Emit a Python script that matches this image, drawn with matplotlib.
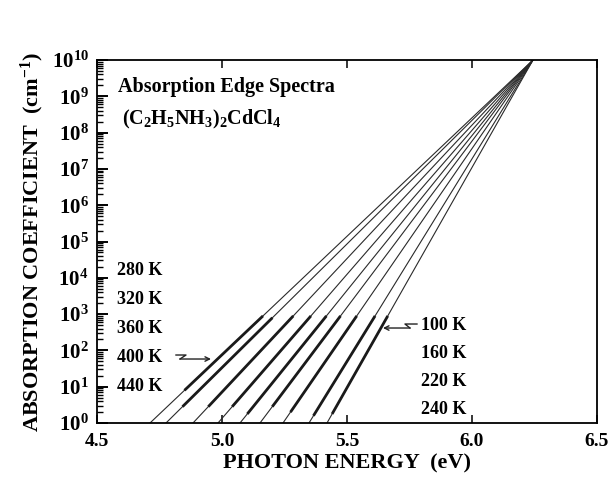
import numpy as np
import matplotlib.pyplot as plt
from matplotlib.ticker import FixedLocator, NullFormatter, FuncFormatter

plt.rcParams['font.family'] = ['Liberation Serif', 'DejaVu Serif']
plt.rcParams['font.weight'] = 'bold'
plt.rcParams['mathtext.fontset'] = 'custom'
plt.rcParams['mathtext.rm'] = 'Liberation Serif:bold'
plt.rcParams['mathtext.it'] = 'Liberation Serif:bold'
plt.rcParams['mathtext.bf'] = 'Liberation Serif:bold'

# Urbach edges: every spectrum extrapolates to a common focus point
temps = [100, 160, 220, 240, 280, 320, 360, 400, 440]          # K
e_at_unit_alpha = [5.42, 5.348, 5.244, 5.152, 5.072, 4.984, 4.884, 4.776, 4.712]  # eV where alpha = 1 cm^-1
focus_energy = 6.244        # eV
focus_alpha = 1e10          # cm^-1

# measured range of each spectrum (log10 alpha)
data_log_lo = [0.25, 0.2, 0.3, 0.45, 0.25, 0.45, 0.45, 0.45, 0.9]
data_log_hi = [2.95, 2.95, 2.95, 2.95, 2.95, 2.95, 2.95, 2.9, 2.95]

left_labels = ['280 K', '320 K', '360 K', '400 K', '440 K']
right_labels = ['100 K', '160 K', '220 K', '240 K']

x_ticks = [4.5, 5.0, 5.5, 6.0, 6.5]
y_decades = np.arange(0, 11)

fig = plt.figure(figsize=(6.15, 4.94), dpi=100)
ax = fig.add_axes([0.1577, 0.1437, 0.813, 0.7348])

log_focus = np.log10(focus_alpha)
for e0, lo, hi in zip(e_at_unit_alpha, data_log_lo, data_log_hi):
    # fitted straight line in log scale
    ax.plot([e0, focus_energy], [1.0, focus_alpha], color='#2a2a2a', lw=0.8)
    # measured segment
    seg_log = np.array([lo, hi])
    seg_e = e0 + (focus_energy - e0) * seg_log / log_focus
    ax.plot(seg_e, 10.0 ** seg_log, color='#1a1a1a', lw=2.0, solid_capstyle='butt')

ax.set_yscale('log')
ax.set_xlim(4.5, 6.5)
ax.set_ylim(1, 1e10)

ax.xaxis.set_major_locator(FixedLocator(x_ticks))
ax.xaxis.set_major_formatter(FuncFormatter(lambda v, p: f'{v:.1f}'))
ax.yaxis.set_major_locator(FixedLocator(10.0 ** y_decades))
ax.yaxis.set_major_formatter(FuncFormatter(lambda v, p: r'$10^{%d}$' % round(np.log10(v))))
minor_y = [m * 10.0 ** d for d in y_decades[:-1] for m in range(2, 10)]
ax.yaxis.set_minor_locator(FixedLocator(minor_y))
ax.yaxis.set_minor_formatter(NullFormatter())

ax.tick_params(axis='x', which='major', direction='in', length=6, width=1.1,
               top=True, bottom=True, color='black', labelsize=14, pad=7)
ax.tick_params(axis='y', which='major', direction='in', length=8, width=1.4,
               left=True, right=False, color='black', labelsize=15, pad=6)
ax.tick_params(axis='y', which='minor', direction='in', length=4.5, width=1.0,
               left=True, right=False, color='black')
for s in ax.spines.values():
    s.set_linewidth(1.3)
    s.set_color('black')

ax.set_xlabel('PHOTON ENERGY  (eV)', fontsize=16, fontweight='bold', labelpad=3)
ax.set_ylabel(r'ABSORPTION COEFFICIENT  (cm$^{-1}$)', fontsize=16, fontweight='bold', labelpad=4)

ax.text(0.042, 0.925, 'Absorption Edge Spectra', transform=ax.transAxes,
        fontsize=14.5, fontweight='bold', va='center', ha='left')
ax.text(0.05, 0.835, r'$(\mathrm{C_2H_5NH_3})_2\mathrm{CdCl_4}$', transform=ax.transAxes,
        fontsize=14.5, va='center', ha='left')

for i, lab in enumerate(left_labels):
    ax.text(0.04, 0.421 - i * 0.08, lab, transform=ax.transAxes,
            fontsize=13, fontweight='bold', va='center', ha='left')
for i, lab in enumerate(right_labels):
    ax.text(0.648, 0.269 - i * 0.077, lab, transform=ax.transAxes,
            fontsize=13, fontweight='bold', va='center', ha='left')


def to_ax(px, py):
    return (px - 97) / 500.0, (423 - py) / 363.0


# zig-zag pointers
zx, zy = zip(*[to_ax(176, 355), to_ax(186, 355), to_ax(180, 359)])
ax.plot(zx, zy, color='#222222', lw=1.0, transform=ax.transAxes)
ax.annotate('', xy=to_ax(211, 359), xytext=to_ax(180, 359),
            xycoords='axes fraction', textcoords='axes fraction',
            arrowprops=dict(arrowstyle='->', lw=1.0, color='#222222',
                            shrinkA=0, shrinkB=0, mutation_scale=8))
zx, zy = zip(*[to_ax(417, 324), to_ax(405, 324), to_ax(410, 328)])
ax.plot(zx, zy, color='#222222', lw=1.0, transform=ax.transAxes)
ax.annotate('', xy=to_ax(383, 328), xytext=to_ax(410, 328),
            xycoords='axes fraction', textcoords='axes fraction',
            arrowprops=dict(arrowstyle='->', lw=1.0, color='#222222',
                            shrinkA=0, shrinkB=0, mutation_scale=8))

fig.savefig('out.png', dpi=100)
